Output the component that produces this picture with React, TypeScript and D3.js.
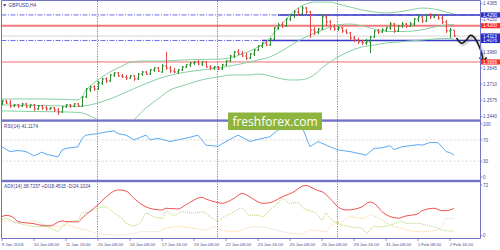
import React from 'react';
import * as d3 from 'd3';

const symbolTitle = 'GBPUSD,H4';
const rsiTitle = 'RSI(14) 41.1174';
const adxTitle = 'ADX(14) 38.7237 +DI18.4515 -DI24.1024';
const watermark = 'freshforex.com';

const timeLabels = ['9 Jan 2018', '10 Jan 08:00', '11 Jan 16:00', '15 Jan 08:00', '16 Jan 08:00', '17 Jan 16:00', '19 Jan 08:00', '22 Jan 08:00', '23 Jan 16:00', '25 Jan 08:00', '26 Jan 08:00', '29 Jan 16:00', '31 Jan 08:00', '1 Feb 08:00', '2 Feb 16:00'];
const barsPerLabel = 8;
const weekStartBars = [24, 54, 84];
const priceTicks = [1.4385, 1.4250, 1.4115, 1.3980, 1.3845, 1.3710, 1.3575, 1.3440];
const rsiTicks = [100, 70, 30, 0];
const rsiGrid = [70, 30];
const adxTicks = [72, 0];

// [open, high, low, close]
const candles: [number, number, number, number][] = [
  [1.3544, 1.3578, 1.3536, 1.3569], [1.3569, 1.3578, 1.3544, 1.3553], [1.3553, 1.3578, 1.3511, 1.3527], [1.3527, 1.3544, 1.3519, 1.3536],
  [1.3536, 1.3544, 1.3511, 1.3527], [1.3527, 1.3553, 1.3519, 1.3544], [1.3544, 1.3553, 1.3511, 1.3519], [1.3519, 1.3544, 1.3511, 1.3536],
  [1.3536, 1.3544, 1.3486, 1.3502], [1.3502, 1.3536, 1.3494, 1.3527], [1.3527, 1.3536, 1.3494, 1.3511], [1.3511, 1.3527, 1.3486, 1.3502],
  [1.3502, 1.3519, 1.3494, 1.3511], [1.3511, 1.3519, 1.3477, 1.3494], [1.3494, 1.3511, 1.3452, 1.3477], [1.3477, 1.3527, 1.3469, 1.3519],
  [1.3519, 1.3544, 1.3511, 1.3536], [1.3536, 1.3544, 1.3511, 1.3527], [1.3527, 1.3553, 1.3519, 1.3544], [1.3544, 1.3553, 1.3519, 1.3527],
  [1.3527, 1.3611, 1.3519, 1.3603], [1.3603, 1.3678, 1.3594, 1.3670], [1.3670, 1.3695, 1.3645, 1.3687], [1.3687, 1.3703, 1.3653, 1.3670],
  [1.3670, 1.3737, 1.3661, 1.3720], [1.3720, 1.3762, 1.3703, 1.3754], [1.3754, 1.3770, 1.3720, 1.3737], [1.3737, 1.3795, 1.3728, 1.3787],
  [1.3787, 1.3812, 1.3770, 1.3804], [1.3804, 1.3812, 1.3770, 1.3779], [1.3779, 1.3795, 1.3762, 1.3770], [1.3770, 1.3787, 1.3745, 1.3762],
  [1.3762, 1.3787, 1.3754, 1.3779], [1.3779, 1.3787, 1.3737, 1.3754], [1.3754, 1.3804, 1.3745, 1.3795], [1.3795, 1.3821, 1.3779, 1.3812],
  [1.3812, 1.3821, 1.3787, 1.3795], [1.3795, 1.3837, 1.3787, 1.3829], [1.3829, 1.3854, 1.3812, 1.3846], [1.3846, 1.3854, 1.3812, 1.3821],
  [1.3812, 1.3879, 1.3804, 1.3862], [1.3862, 1.3980, 1.3829, 1.3846], [1.3846, 1.3862, 1.3804, 1.3821], [1.3821, 1.3846, 1.3804, 1.3812],
  [1.3812, 1.3837, 1.3795, 1.3829], [1.3829, 1.3862, 1.3821, 1.3854], [1.3854, 1.3879, 1.3846, 1.3871], [1.3871, 1.3896, 1.3854, 1.3888],
  [1.3888, 1.3904, 1.3871, 1.3896], [1.3896, 1.3913, 1.3871, 1.3879], [1.3879, 1.3904, 1.3862, 1.3896], [1.3896, 1.3904, 1.3846, 1.3854],
  [1.3854, 1.3871, 1.3829, 1.3846], [1.3846, 1.3862, 1.3829, 1.3854], [1.3854, 1.3862, 1.3829, 1.3837], [1.3837, 1.3879, 1.3829, 1.3871],
  [1.3871, 1.3913, 1.3862, 1.3904], [1.3904, 1.3955, 1.3896, 1.3946], [1.3946, 1.3988, 1.3929, 1.3980], [1.3980, 1.4005, 1.3955, 1.3963],
  [1.3963, 1.3988, 1.3938, 1.3946], [1.3946, 1.3971, 1.3913, 1.3929], [1.3929, 1.3971, 1.3921, 1.3963], [1.3963, 1.4005, 1.3946, 1.3996],
  [1.3996, 1.4038, 1.3988, 1.4030], [1.4030, 1.4063, 1.4013, 1.4055], [1.4055, 1.4072, 1.4030, 1.4038], [1.4038, 1.4097, 1.4030, 1.4089],
  [1.4089, 1.4189, 1.4080, 1.4181], [1.4181, 1.4223, 1.4164, 1.4206], [1.4206, 1.4231, 1.4181, 1.4197], [1.4197, 1.4264, 1.4189, 1.4256],
  [1.4256, 1.4298, 1.4239, 1.4290], [1.4290, 1.4331, 1.4264, 1.4315], [1.4315, 1.4348, 1.4281, 1.4298], [1.4298, 1.4365, 1.4290, 1.4348],
  [1.4348, 1.4357, 1.4298, 1.4315], [1.4315, 1.4323, 1.4097, 1.4164], [1.4164, 1.4189, 1.4122, 1.4147], [1.4147, 1.4181, 1.4130, 1.4172],
  [1.4172, 1.4298, 1.4164, 1.4273], [1.4273, 1.4290, 1.4197, 1.4231], [1.4231, 1.4248, 1.4164, 1.4189], [1.4189, 1.4214, 1.4156, 1.4172],
  [1.4172, 1.4197, 1.4156, 1.4181], [1.4181, 1.4189, 1.4139, 1.4156], [1.4156, 1.4172, 1.4130, 1.4139], [1.4139, 1.4147, 1.4080, 1.4097],
  [1.4097, 1.4114, 1.4063, 1.4080], [1.4080, 1.4097, 1.4047, 1.4063], [1.4063, 1.4080, 1.4038, 1.4055], [1.4055, 1.4089, 1.4038, 1.4063],
  [1.4063, 1.4114, 1.3971, 1.4105], [1.4105, 1.4164, 1.4097, 1.4156], [1.4156, 1.4172, 1.4130, 1.4147], [1.4147, 1.4181, 1.4139, 1.4164],
  [1.4164, 1.4189, 1.4147, 1.4181], [1.4181, 1.4231, 1.4164, 1.4214], [1.4214, 1.4223, 1.4139, 1.4156], [1.4156, 1.4206, 1.4147, 1.4197],
  [1.4197, 1.4231, 1.4181, 1.4214], [1.4214, 1.4223, 1.4181, 1.4197], [1.4197, 1.4231, 1.4189, 1.4214], [1.4214, 1.4264, 1.4197, 1.4256],
  [1.4256, 1.4290, 1.4231, 1.4273], [1.4273, 1.4281, 1.4223, 1.4239], [1.4239, 1.4298, 1.4231, 1.4290], [1.4290, 1.4306, 1.4256, 1.4273],
  [1.4273, 1.4298, 1.4264, 1.4290], [1.4290, 1.4298, 1.4248, 1.4264], [1.4264, 1.4281, 1.4214, 1.4231], [1.4231, 1.4248, 1.4139, 1.4156],
  [1.4156, 1.4181, 1.4097, 1.4164], [1.4164, 1.4164, 1.4105, 1.4113],
];

// Bollinger bands (20), [bar, price]
const bbUpper: [number, number][] = [
  [0, 1.3586], [8, 1.3586], [16, 1.3582], [19, 1.3578], [20, 1.3603], [21, 1.3661], [22, 1.3695], [24, 1.3745], [27, 1.3812],
  [30, 1.3862], [32, 1.3892], [35, 1.3904], [40, 1.3904], [45, 1.3913], [50, 1.3917], [55, 1.3921], [58, 1.3938], [60, 1.3963],
  [62, 1.3988], [64, 1.4022], [66, 1.4063], [68, 1.4139], [70, 1.4214], [72, 1.4290], [74, 1.4348], [76, 1.4382], [78, 1.4398],
  [82, 1.4398], [84, 1.4382], [87, 1.4357], [90, 1.4331], [93, 1.4315], [96, 1.4306], [99, 1.4315], [102, 1.4331], [105, 1.4348],
  [108, 1.4340], [111, 1.4315], [113, 1.4298],
];
const bbMiddle: [number, number][] = [
  [0, 1.3536], [8, 1.3532], [16, 1.3527], [19, 1.3523], [22, 1.3536], [24, 1.3553], [27, 1.3586], [30, 1.3628], [34, 1.3687],
  [39, 1.3754], [44, 1.3800], [49, 1.3825], [54, 1.3846], [59, 1.3875], [64, 1.3913], [67, 1.3938], [69, 1.3971], [72, 1.4030],
  [74, 1.4072], [77, 1.4122], [79, 1.4147], [82, 1.4189], [84, 1.4206], [87, 1.4214], [89, 1.4206], [92, 1.4181], [94, 1.4164],
  [97, 1.4151], [100, 1.4151], [104, 1.4160], [107, 1.4181], [110, 1.4202], [113, 1.4210],
];
const bbLower: [number, number][] = [
  [0, 1.3486], [8, 1.3481], [16, 1.3477], [19, 1.3473], [20, 1.3469], [22, 1.3444], [24, 1.3410], [26, 1.3360], [29, 1.3318],
  [31, 1.3343], [33, 1.3410], [36, 1.3511], [39, 1.3586], [42, 1.3661], [45, 1.3695], [48, 1.3728], [51, 1.3754], [54, 1.3770],
  [57, 1.3787], [60, 1.3787], [62, 1.3787], [64, 1.3795], [66, 1.3787], [68, 1.3770], [70, 1.3754], [72, 1.3745], [74, 1.3745],
  [76, 1.3754], [78, 1.3787], [80, 1.3846], [82, 1.3896], [84, 1.3938], [87, 1.3988], [90, 1.4022], [93, 1.4038], [96, 1.4055],
  [99, 1.4063], [102, 1.4072], [105, 1.4080], [108, 1.4089], [111, 1.4093], [113, 1.4089],
];

const blueLevels = [1.4290, 1.4076];
const blueSegmentStartBars = [69, 65];
const redStrongLevel = 1.4200;
const redTargetLevel = 1.3896;
const lastPrice = 1.4113;

const forecast: [number, number][] = [
  [113.7, 1.4093], [114.9, 1.4053], [116.3, 1.4089], [117, 1.4118], [117.8, 1.4110], [118.9, 1.4055], [119.9, 1.3971], [120.25, 1.3900],
];

const rsi: [number, number][] = [
  [0, 57], [2, 48], [4, 50], [6, 48], [8, 40], [10, 47], [11, 43], [14, 38], [15, 51], [16, 54], [19, 57], [20, 73], [21, 79],
  [24, 82], [26, 85], [28, 87], [29, 82], [31, 79], [33, 70], [34, 73], [36, 79], [37, 70], [39, 73], [42, 67], [44, 70], [47, 75],
  [49, 79], [51, 60], [54, 58], [56, 67], [59, 79], [62, 67], [64, 71], [67, 76], [69, 89], [73, 92], [75, 95], [77, 57], [79, 67],
  [82, 57], [84, 51], [87, 48], [90, 43], [91, 41], [93, 54], [95, 55], [97, 59], [98, 52], [100, 57], [102, 59], [104, 61],
  [105, 60], [107, 65], [109, 65], [111, 48], [112, 46], [113, 41.1],
];

const adx: [number, number][] = [
  [0, 27], [1, 29], [3, 25], [4, 20], [8, 17], [11, 14], [12, 14], [15, 21], [16, 20], [19, 19.5], [20, 25], [24, 44], [26, 55],
  [29, 65], [31, 63.5], [33, 53], [35, 44], [38, 37.5], [40, 36.5], [41, 39], [44, 38], [46, 44], [50, 54.5], [51, 52], [54, 47],
  [55, 46], [58, 53], [60, 60], [62, 55], [64, 48], [65, 46], [67, 47], [70, 55], [73, 62.5], [75, 70], [76, 71.5], [77, 69.5],
  [79, 64], [80, 62.5], [82, 53], [84, 41], [86, 36.5], [88, 37.5], [90, 41], [92, 48], [94, 41], [95, 34], [99, 25], [101, 28],
  [104, 31], [105, 35.5], [108, 39], [110, 35.5], [111, 35.5], [113, 38.7],
];
const plusDI: [number, number][] = [
  [0, 22.3], [1, 24.7], [3, 20], [6, 15], [9, 13], [11, 13], [13, 8], [14, 6], [15, 13], [17, 20], [19, 22], [20, 32], [22, 34],
  [24, 39], [26, 41], [28, 32], [30, 25], [31, 18], [33, 14], [35, 22], [36, 32], [38, 27], [40, 25], [41, 34], [43, 29], [45, 34],
  [48, 32], [50, 34], [52, 27], [54, 21], [55, 25], [58, 34], [60, 39], [61, 34], [62, 29], [64, 29], [65, 27], [67, 36.5], [69, 46],
  [70, 53], [72, 46], [74, 47], [75, 41], [79, 29], [80, 22], [81, 32], [82, 25], [84, 17.6], [87, 12.8], [90, 10.5], [91, 3.4],
  [93, 12.8], [95, 12.8], [97, 15.2], [100, 19.9], [101, 17.6], [104, 17.6], [106, 15.2], [109, 10.5], [110, 8.1], [112, 6.7], [113, 6.7],
];
const minusDI: [number, number][] = [
  [0, 20], [1, 22], [4, 17.6], [8, 21], [11, 15], [14, 13], [16, 15], [19, 10.5], [21, 8], [24, 3.4], [28, 1], [30, 1], [33, 3.4],
  [35, 5.7], [39, 5.7], [41, 10.5], [44, 12.8], [48, 10.5], [51, 8], [53, 12.8], [55, 8], [58, 5.7], [60, 8], [62, 12], [64, 12.8],
  [67, 10.5], [70, 5.7], [73, 3.4], [75, 2.4], [77, 8], [79, 7], [81, 5.7], [82, 12.8], [83, 17.6], [85, 20], [87, 27], [90, 24.7],
  [92, 29.4], [95, 22.3], [97, 15.2], [100, 10.5], [102, 7], [105, 5.7], [108, 7], [110, 12.8], [111, 24.7], [113, 24.1],
];

const FONT = "'Liberation Sans', Arial, sans-serif";

export default function App() {
  const W = 500, H = 250;
  const left = 1.5, right = 480.5;
  const mainTop = 1, mainBottom = 119.5;
  const rsiTop = 122, rsiBottom = 180;
  const adxTop = 182.2, adxBottom = 238.5;

  const x = d3.scaleLinear().domain([0, 113]).range([2, 454]);
  const yP = d3.scaleLinear().domain([1.3440, 1.4385]).range([116.4, 3.6]);
  const yR = d3.scaleLinear().domain([0, 100]).range([177, 124]);
  const yA = d3.scaleLinear().domain([0, 72]).range([235.7, 185]);

  const priceLine = d3.line<[number, number]>().x(d => x(d[0])).y(d => yP(d[1])).curve(d3.curveMonotoneX);
  const rsiLine = d3.line<[number, number]>().x(d => x(d[0])).y(d => yR(d[1]));
  const adxLine = d3.line<[number, number]>().x(d => x(d[0])).y(d => yA(d[1])).curve(d3.curveMonotoneX);
  const arrowLine = d3.line<[number, number]>().x(d => x(d[0])).y(d => yP(d[1])).curve(d3.curveCatmullRom.alpha(0.5));

  const frame = '#7474c6';
  const axisText = '#4a4a96';
  const upColor = '#2f8f2f';
  const downColor = '#e24a4a';
  const bbColor = '#88d0a4';

  const boxes = [
    { p: blueLevels[1], fill: '#2b2bcc' },
    { p: lastPrice, fill: '#2b2bcc' },
    { p: blueLevels[0], fill: '#2b2bcc' },
    { p: redStrongLevel, fill: '#ff2b2b' },
    { p: redTargetLevel, fill: '#ff2b2b' },
  ];

  const tip = forecast[forecast.length - 1];
  const tipX = x(tip[0]);
  const tipY = yP(tip[1]);

  return (
    <svg width={W} height={H} viewBox={`0 0 ${W} ${H}`} style={{ position: 'absolute', left: 0, top: 0, background: '#fff' }} fontFamily={FONT}>
      <defs>
        <clipPath id="mainClip"><rect x={left} y={mainTop} width={right - left} height={mainBottom - mainTop} /></clipPath>
        <clipPath id="rsiClip"><rect x={left} y={rsiTop} width={right - left} height={rsiBottom - rsiTop} /></clipPath>
        <clipPath id="adxClip"><rect x={left} y={adxTop} width={right - left} height={adxBottom - adxTop} /></clipPath>
        <filter id="shadow" x="-20%" y="-20%" width="140%" height="140%">
          <feGaussianBlur stdDeviation="1" />
        </filter>
      </defs>
      <rect x={0} y={0} width={W} height={H} fill="#fff" />

      {/* main panel levels */}
      <g clipPath="url(#mainClip)">
        <line x1={left} x2={right} y1={yP(lastPrice)} y2={yP(lastPrice)} stroke="#d6d6d6" strokeWidth={1} />
        <line x1={left} x2={right} y1={yP(redStrongLevel)} y2={yP(redStrongLevel)} stroke="#f27878" strokeWidth={2} />
        <line x1={left} x2={right} y1={yP(redTargetLevel)} y2={yP(redTargetLevel)} stroke="#f06a6a" strokeWidth={1} />
        {blueLevels.map((p, k) => (
          <g key={k}>
            <line x1={left} x2={right} y1={yP(p)} y2={yP(p)} stroke="#5c5ce6" strokeWidth={0.9} strokeDasharray="5 1.5 1 1.5" />
            <line x1={x(blueSegmentStartBars[k])} x2={right} y1={yP(p)} y2={yP(p)} stroke="#3a3ac8" strokeWidth={1.4} />
          </g>
        ))}
      </g>

      {/* week separators */}
      {weekStartBars.map(b => (
        <line key={b} x1={x(b) - 0.5} x2={x(b) - 0.5} y1={mainTop} y2={adxBottom} stroke="#5a5aa8" strokeWidth={0.8} strokeDasharray="1.2 1.3" />
      ))}

      <g clipPath="url(#mainClip)">
        {[bbUpper, bbMiddle, bbLower].map((d, k) => (
          <path key={k} d={priceLine(d) || ''} fill="none" stroke={bbColor} strokeWidth={1} />
        ))}
        {candles.map(([o, h, l, c], i) => {
          const cx = Math.round(x(i)) + 0.5;
          const col = c >= o ? upColor : downColor;
          return (
            <g key={i} stroke={col} strokeWidth={1}>
              <line x1={cx} x2={cx} y1={yP(h)} y2={yP(l)} />
              <line x1={cx - 1.5} x2={cx} y1={yP(o)} y2={yP(o)} />
              <line x1={cx} x2={cx + 1.5} y1={yP(c)} y2={yP(c)} />
            </g>
          );
        })}
      </g>

      {/* forecast arrow */}
      <g transform="translate(1.2,1.4)" filter="url(#shadow)" opacity={0.55}>
        <path d={arrowLine(forecast) || ''} fill="none" stroke="#555" strokeWidth={1.6} />
        <path d={`M${tipX - 3.5},${tipY - 4} L${tipX},${tipY} L${tipX + 3.5},${tipY - 4}`} fill="none" stroke="#555" strokeWidth={1.6} />
      </g>
      <path d={arrowLine(forecast) || ''} fill="none" stroke="#111" strokeWidth={1.5} strokeLinecap="round" />
      <path d={`M${tipX - 3.5},${tipY - 4} L${tipX},${tipY} L${tipX + 3.5},${tipY - 4}`} fill="none" stroke="#111" strokeWidth={1.5} strokeLinejoin="miter" />

      {/* RSI panel */}
      {rsiGrid.map(v => (
        <line key={v} x1={left} x2={right} y1={yR(v)} y2={yR(v)} stroke="#c9c9c9" strokeWidth={0.8} strokeDasharray="2 2" />
      ))}
      <g clipPath="url(#rsiClip)">
        <path d={rsiLine(rsi) || ''} fill="none" stroke="#5caaf2" strokeWidth={1} />
      </g>

      {/* ADX panel */}
      <g clipPath="url(#adxClip)">
        <path d={adxLine(minusDI) || ''} fill="none" stroke="#f3d2a4" strokeWidth={1} strokeDasharray="1 1" />
        <path d={adxLine(plusDI) || ''} fill="none" stroke="#abd46a" strokeWidth={1} strokeDasharray="1 1" />
        <path d={adxLine(adx) || ''} fill="none" stroke="#f25454" strokeWidth={1} />
      </g>

      {/* frame */}
      <line x1={left} x2={left} y1={0.5} y2={adxBottom} stroke={frame} strokeWidth={1} />
      <line x1={left} x2={right} y1={0.5} y2={0.5} stroke={frame} strokeWidth={1} />
      <line x1={right} x2={right} y1={0.5} y2={adxBottom} stroke={frame} strokeWidth={1} />
      <line x1={left} x2={right} y1={adxBottom} y2={adxBottom} stroke={frame} strokeWidth={1} />
      <rect x={left - 0.5} y={119.4} width={right - left + 1} height={2.4} fill={frame} />
      <rect x={left - 0.5} y={179.8} width={right - left + 1} height={2.4} fill={frame} />

      {/* watermark */}
      <rect x={228} y={112.5} width={94} height={17.5} fill="#8db43e" />
      <text x={275} y={126} textAnchor="middle" fontFamily="'Open Sans', sans-serif" fontSize={12} fill="#fff">{watermark}</text>

      {/* price axis */}
      {priceTicks.map(t => (
        <g key={t}>
          <line x1={right} x2={right + 2} y1={yP(t)} y2={yP(t)} stroke={frame} strokeWidth={0.8} />
          <text x={483} y={yP(t) + 1.6} fontSize={4.6} fill={axisText}>{t.toFixed(4)}</text>
        </g>
      ))}
      {boxes.map((b, k) => (
        <g key={k}>
          <rect x={481} y={yP(b.p) - 2.6} width={19} height={5.2} fill={b.fill} />
          <text x={483} y={yP(b.p) + 1.6} fontSize={4.6} fill="#fff">{b.p.toFixed(4)}</text>
        </g>
      ))}

      {/* RSI axis */}
      {rsiTicks.map(t => (
        <g key={t}>
          <line x1={right} x2={right + 2} y1={yR(t)} y2={yR(t)} stroke={frame} strokeWidth={0.8} />
          <text x={483} y={yR(t) + 1.6} fontSize={4.6} fill={axisText}>{t}</text>
        </g>
      ))}
      {/* ADX axis */}
      {adxTicks.map(t => (
        <g key={t}>
          <line x1={right} x2={right + 2} y1={yA(t)} y2={yA(t)} stroke={frame} strokeWidth={0.8} />
          <text x={483} y={yA(t) + 1.6} fontSize={4.6} fill={axisText}>{t}</text>
        </g>
      ))}

      {/* time axis */}
      {timeLabels.map((lab, k) => {
        const tx = x(k * barsPerLabel);
        return (
          <g key={lab}>
            <line x1={tx} x2={tx} y1={adxBottom} y2={adxBottom + 2.5} stroke={frame} strokeWidth={0.8} />
            <text x={tx - 0.3} y={246} fontSize={4.4} fill={axisText}>{lab}</text>
          </g>
        );
      })}

      {/* titles */}
      <path d="M3,4.3 L6.4,4.3 L4.7,6.6 Z" fill="#2c2c7c" />
      <text x={8.5} y={7.2} fontSize={4.8} fill="#3c3c8c">{symbolTitle}</text>
      <text x={4} y={128} fontSize={4.7} fill="#3c3c8c">{rsiTitle}</text>
      <text x={4} y={188} fontSize={4.7} fill="#3c3c8c">{adxTitle}</text>
    </svg>
  );
}
